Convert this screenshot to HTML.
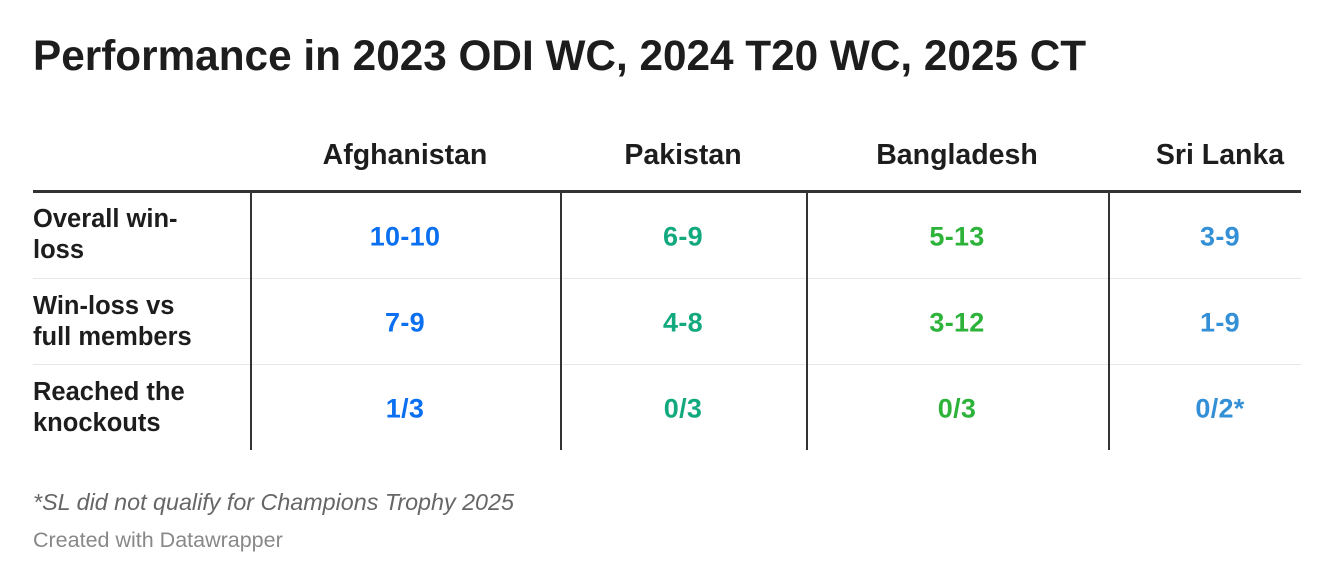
<!DOCTYPE html>
<html><head><meta charset="utf-8"><style>
body{margin:0;width:1334px;height:586px;background:#fff;font-family:"Liberation Sans",Arial,sans-serif;color:#1d1d1d;position:relative;overflow:hidden}
.t{position:absolute;left:33px;top:32px;font-size:42.3px;font-weight:bold;white-space:nowrap}
.h{position:absolute;top:139px;font-size:28.5px;font-weight:bold;transform:translateX(-50%);white-space:nowrap}
.top{position:absolute;left:33px;width:1268px;top:190px;height:3px;background:#333}
.sep{position:absolute;left:33px;width:1268px;height:1px;background:#e6e6e6}
.v{position:absolute;top:193px;height:257px;width:2px;background:#333}
.l{position:absolute;left:33px;font-size:25.5px;font-weight:bold;line-height:31px}
.c{position:absolute;font-size:27px;font-weight:bold;letter-spacing:0.3px;transform:translate(-50%,-50%);white-space:nowrap}
.a{color:#0a6ff0}.p{color:#13a97e}.b{color:#2db33a}.s{color:#3490d6}
.f{position:absolute;left:33px;top:489px;font-size:23.3px;font-style:italic;color:#666}
.d{position:absolute;left:33px;top:528px;font-size:21.5px;color:#888}
</style></head><body>
<div class="t">Performance in 2023 ODI WC, 2024 T20 WC, 2025 CT</div>
<div class="h" style="left:405px">Afghanistan</div>
<div class="h" style="left:683px">Pakistan</div>
<div class="h" style="left:957px">Bangladesh</div>
<div class="h" style="left:1220px">Sri Lanka</div>
<div class="top"></div>
<div class="sep" style="top:278px"></div>
<div class="sep" style="top:364px"></div>
<div class="v" style="left:250px"></div>
<div class="v" style="left:560px"></div>
<div class="v" style="left:806px"></div>
<div class="v" style="left:1108px"></div>
<div class="l" style="top:204px">Overall win-<br>loss</div>
<div class="l" style="top:291px">Win-loss vs<br>full members</div>
<div class="l" style="top:377px">Reached the<br>knockouts</div>
<div class="c a" style="left:405px;top:237px">10-10</div>
<div class="c p" style="left:683px;top:237px">6-9</div>
<div class="c b" style="left:957px;top:237px">5-13</div>
<div class="c s" style="left:1220px;top:237px">3-9</div>
<div class="c a" style="left:405px;top:323px">7-9</div>
<div class="c p" style="left:683px;top:323px">4-8</div>
<div class="c b" style="left:957px;top:323px">3-12</div>
<div class="c s" style="left:1220px;top:323px">1-9</div>
<div class="c a" style="left:405px;top:409px">1/3</div>
<div class="c p" style="left:683px;top:409px">0/3</div>
<div class="c b" style="left:957px;top:409px">0/3</div>
<div class="c s" style="left:1220px;top:409px">0/2*</div>
<div class="f">*SL did not qualify for Champions Trophy 2025</div>
<div class="d">Created with Datawrapper</div>
</body></html>
